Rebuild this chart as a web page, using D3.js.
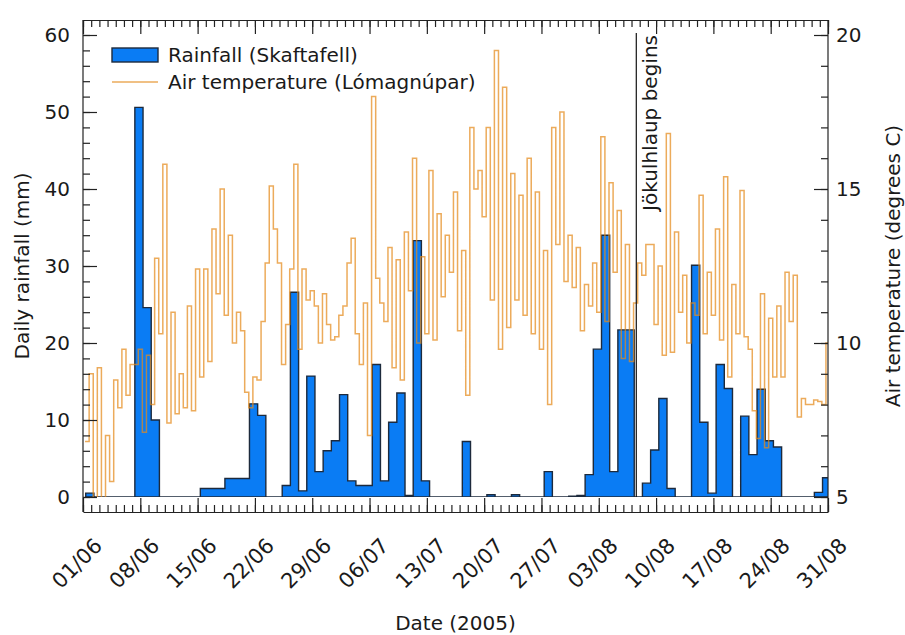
<!DOCTYPE html>
<html>
<head>
<meta charset="utf-8">
<script src="https://cdn.jsdelivr.net/npm/d3@7/dist/d3.min.js"></script>
<style>
  body { margin: 0; background: #fff; }
  text { font-family: "DejaVu Sans", Verdana, sans-serif; fill: #1a1a1a; }
</style>
</head>
<body>
<svg width="905" height="635"></svg>
<script>
// daily rainfall at Skaftafell (mm), one total per day from 01/06/2005
const rainMm = [
  0.5, 0, 0, 0, 0, 0, 50.6, 24.6, 10.0, 0,
  0, 0, 0, 0, 1.1, 1.1, 1.1, 2.4, 2.4, 2.4,
  12.1, 10.6, 0, 0, 1.5, 26.6, 0.8, 15.7, 3.3, 6.0,
  7.3, 13.3, 2.1, 1.5, 1.5, 17.2, 2.1, 9.7, 13.5, 0.2,
  33.3, 2.1, 0, 0, 0, 0, 7.2, 0, 0, 0.3,
  0, 0, 0.3, 0, 0, 0, 3.3, 0, 0, 0.1,
  0.2, 2.9, 19.2, 34.0, 3.3, 21.7, 21.7, 0, 1.8, 6.1,
  12.8, 1.1, 0, 0, 30.1, 9.7, 0.5, 17.2, 14.1, 0,
  10.5, 5.5, 14.0, 7.3, 6.5, 0, 0, 0, 0, 0.6,
  2.5
];

// air temperature at Lómagnúpar (degrees C), two readings a day (06h, 18h)
const tempC = [
  6.8, 9.0, 4.9, 9.2, 4.9, 7.0, 5.5, 8.8, 7.9, 9.8,
  8.3, 9.3, 9.3, 9.8, 7.1, 9.6, 8.0, 12.75, 10.3, 15.8,
  7.4, 11.0, 7.7, 9.0, 7.9, 11.2, 7.8, 12.4, 8.9, 12.4,
  9.4, 13.7, 11.6, 15.0, 10.9, 13.5, 10.0, 11.0, 10.4, 8.4,
  7.9, 8.9, 8.8, 10.7, 12.6, 15.1, 13.7, 12.6, 9.3, 10.6,
  12.4, 15.8, 9.8, 12.4, 11.4, 11.7, 11.2, 10.0, 11.6, 10.6,
  10.1, 10.2, 10.9, 11.2, 12.6, 13.4, 10.3, 9.3, 11.3, 7.0,
  18.0, 12.1, 11.3, 10.7, 13.1, 9.2, 12.7, 8.8, 13.6, 11.7,
  16.0, 10.0, 12.8, 10.3, 15.6, 10.1, 14.2, 11.5, 13.5, 12.3,
  14.9, 10.4, 13.0, 8.3, 17.0, 15.0, 15.6, 14.1, 17.0, 11.4,
  19.5, 9.8, 18.3, 10.5, 15.5, 11.4, 14.8, 10.9, 16.0, 10.3,
  14.9, 9.8, 13.0, 8.0, 17.0, 13.2, 17.5, 12.0, 13.5, 11.8,
  13.1, 10.4, 11.9, 11.2, 12.6, 11.0, 16.7, 10.7, 15.2, 12.3,
  14.3, 9.5, 13.2, 9.4, 11.3, 12.6, 12.2, 13.2, 13.2, 10.6,
  12.5, 9.6, 16.8, 9.7, 13.6, 11.0, 12.2, 10.0, 11.3, 10.9,
  14.8, 10.3, 12.3, 10.9, 13.7, 10.1, 15.4, 8.9, 11.9, 10.3,
  14.95, 10.2, 9.8, 7.8, 6.9, 11.6, 6.6, 10.8, 8.9, 11.2,
  8.9, 12.3, 10.7, 12.2, 7.6, 8.2, 8.0, 8.0, 8.15, 8.1,
  8.0, 10.0
];

const rainHour = 8;          // rain totals run 08:00 -> 08:00
const tempHours = 6;         // first temperature reading, then every 12 h
const rainTicks = [0, 10, 20, 30, 40, 50, 60];
const tempTicks = [5, 10, 15, 20];
const startDate = new Date(Date.UTC(2005, 5, 1));
const endDate = new Date(Date.UTC(2005, 7, 31));
const floodDate = new Date(Date.UTC(2005, 7, 7, 14));

const svg = d3.select('svg');
const plotLeft = 83, plotRight = 828, plotTop = 35, plotBottom = 497;
const frameTop = 20, frameBottom = 512;
const rainFill = '#0a7cf4', rainLine = '#1d2a3c', tempColour = '#e58a1c';

const x = d3.scaleUtc().domain([startDate, endDate]).range([plotLeft, plotRight]);
const yRain = d3.scaleLinear().domain([0, 60]).range([plotBottom, plotTop]);
const yTemp = d3.scaleLinear().domain([5, 20]).range([plotBottom, plotTop]);

svg.append('clipPath').attr('id', 'plot')
  .append('rect')
  .attr('x', plotLeft).attr('y', frameTop)
  .attr('width', plotRight - plotLeft).attr('height', plotBottom - frameTop);

// rainfall as a filled step outline
const rainPts = rainMm.map((v, i) => ({ t: new Date(Date.UTC(2005, 5, 1 + i, rainHour)), v }));
rainPts.push({ t: new Date(Date.UTC(2005, 5, 1 + rainMm.length, rainHour)), v: rainMm[rainMm.length - 1] });

svg.append('path')
  .datum(rainPts)
  .attr('clip-path', 'url(#plot)')
  .attr('fill', rainFill)
  .attr('stroke', rainLine)
  .attr('stroke-width', 1.4)
  .attr('d', d3.area().curve(d3.curveStepAfter)
    .x(d => x(d.t)).y0(yRain(0)).y1(d => yRain(d.v)));

// temperature as a step line on top
const tempPts = tempC.map((v, i) => ({ t: new Date(Date.UTC(2005, 5, 1, tempHours + 12 * i)), v }));
tempPts.push({ t: new Date(Date.UTC(2005, 5, 1, tempHours + 12 * tempC.length)), v: tempC[tempC.length - 1] });

svg.append('path')
  .datum(tempPts)
  .attr('clip-path', 'url(#plot)')
  .attr('fill', 'none')
  .attr('stroke', tempColour)
  .attr('stroke-opacity', 0.72)
  .attr('stroke-width', 1.5)
  .attr('d', d3.line().curve(d3.curveStepAfter)
    .x(d => x(d.t)).y(d => yTemp(d.v)));

// jokulhlaup marker
svg.append('line')
  .attr('x1', x(floodDate)).attr('x2', x(floodDate))
  .attr('y1', plotTop - 2).attr('y2', plotBottom)
  .attr('stroke', '#111').attr('stroke-width', 1.2);

svg.append('text')
  .attr('transform', `translate(${x(floodDate) + 21},${plotTop})rotate(-90)`)
  .attr('text-anchor', 'end')
  .style('font-size', '20px')
  .text('Jökulhlaup begins');

// axes
const weeks = d3.utcDay.range(startDate, d3.utcDay.offset(endDate, 1), 7);
const days = d3.utcDay.range(startDate, d3.utcDay.offset(endDate, 1));

function styleAxis(g) {
  g.select('.domain').attr('stroke', '#222').attr('stroke-width', 1.2);
  g.selectAll('.tick line').attr('stroke', '#222').attr('stroke-width', 1.2);
  g.selectAll('.tick text').style('font-size', '20px').attr('fill', '#1a1a1a');
}

// bottom: minor days, major weeks, ticks pointing up
svg.append('g')
  .attr('transform', `translate(0,${frameBottom})`)
  .call(d3.axisBottom(x).tickValues(days).tickSize(-7).tickFormat('').tickSizeOuter(0))
  .call(styleAxis);
svg.append('g')
  .attr('transform', `translate(0,${frameBottom})`)
  .call(d3.axisBottom(x).tickValues(weeks).tickSizeInner(-14).tickSizeOuter(0)
    .tickFormat(d3.utcFormat('%d/%m')))
  .call(styleAxis)
  .call(g => g.select('.domain').remove())
  .call(g => g.selectAll('.tick text')
    .style('font-size', '21px')
    .attr('text-anchor', 'end')
    .attr('x', 0).attr('y', 0).attr('dy', null)
    .attr('transform', 'translate(20,35)rotate(-45)'));

// top mirror
svg.append('g')
  .attr('transform', `translate(0,${frameTop})`)
  .call(d3.axisTop(x).tickValues(days).tickSize(-7).tickFormat('').tickSizeOuter(0))
  .call(styleAxis);
svg.append('g')
  .attr('transform', `translate(0,${frameTop})`)
  .call(d3.axisTop(x).tickValues(weeks).tickSize(-14).tickFormat(''))
  .call(styleAxis)
  .call(g => g.select('.domain').remove());

// left rainfall axis
svg.append('g')
  .attr('transform', `translate(${plotLeft},0)`)
  .call(d3.axisLeft(yRain).tickValues(d3.range(0, 61, 2)).tickSize(-7).tickFormat('').tickSizeOuter(0))
  .call(styleAxis)
  .call(g => g.select('.domain').attr('d', `M0,${frameTop}V${frameBottom}`));
svg.append('g')
  .attr('transform', `translate(${plotLeft},0)`)
  .call(d3.axisLeft(yRain).tickValues(rainTicks).tickSize(-14).tickPadding(13))
  .call(styleAxis)
  .call(g => g.select('.domain').remove());

// right temperature axis
svg.append('g')
  .attr('transform', `translate(${plotRight},0)`)
  .call(d3.axisRight(yTemp).tickValues(d3.range(5, 21, 1)).tickSize(-7).tickFormat('').tickSizeOuter(0))
  .call(styleAxis)
  .call(g => g.select('.domain').attr('d', `M0,${frameTop}V${frameBottom}`));
svg.append('g')
  .attr('transform', `translate(${plotRight},0)`)
  .call(d3.axisRight(yTemp).tickValues(tempTicks).tickSize(-14).tickPadding(8))
  .call(styleAxis)
  .call(g => g.select('.domain').remove());

// axis titles
svg.append('text')
  .attr('transform', `translate(29,${(plotTop + plotBottom) / 2})rotate(-90)`)
  .attr('text-anchor', 'middle')
  .style('font-size', '20px')
  .text('Daily rainfall (mm)');
svg.append('text')
  .attr('transform', `translate(900,${(plotTop + plotBottom) / 2})rotate(-90)`)
  .attr('text-anchor', 'middle')
  .style('font-size', '20px')
  .text('Air temperature (degrees C)');
svg.append('text')
  .attr('x', (plotLeft + plotRight) / 2).attr('y', 630)
  .attr('text-anchor', 'middle')
  .style('font-size', '20px')
  .text('Date (2005)');

// legend
const legend = svg.append('g').attr('transform', 'translate(112,0)');
legend.append('rect')
  .attr('x', 0).attr('y', 48).attr('width', 46).attr('height', 14)
  .attr('fill', rainFill).attr('stroke', rainLine).attr('stroke-width', 1.4);
legend.append('text')
  .attr('x', 56).attr('y', 62)
  .style('font-size', '20px')
  .text('Rainfall (Skaftafell)');
legend.append('line')
  .attr('x1', 0).attr('x2', 46).attr('y1', 82).attr('y2', 82)
  .attr('stroke', tempColour).attr('stroke-opacity', 0.72).attr('stroke-width', 1.5);
legend.append('text')
  .attr('x', 56).attr('y', 89)
  .style('font-size', '20px')
  .text('Air temperature (Lómagnúpar)');
</script>
</body>
</html>
